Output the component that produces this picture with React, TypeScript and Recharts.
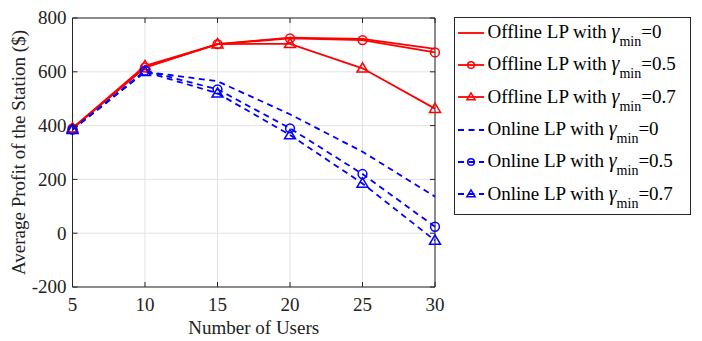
import React from "react";
import {
  LineChart,
  Line,
  XAxis,
  YAxis,
  CartesianGrid,
  ReferenceLine,
  Legend,
} from "recharts";

// ---- data ----
const users = [5, 10, 15, 20, 25, 30];
const offline0 = [390, 616, 703, 727, 722, 685];
const offline05 = [390, 616, 703, 724, 718, 672];
const offline07 = [390, 622, 703, 704, 613, 463];
const online0 = [385, 600, 565, 442, 303, 136];
const online05 = [385, 604, 535, 390, 220, 24];
const online07 = [385, 600, 520, 365, 185, -27];
const xTicks = [5, 10, 15, 20, 25, 30];
const yTicks = [-200, 0, 200, 400, 600, 800];

const SERIES = [
  { key: "off0", prefix: "Offline", gamma: "0", values: offline0, color: "#ff0000", dashed: false, marker: "none" },
  { key: "off05", prefix: "Offline", gamma: "0.5", values: offline05, color: "#ff0000", dashed: false, marker: "circle" },
  { key: "off07", prefix: "Offline", gamma: "0.7", values: offline07, color: "#ff0000", dashed: false, marker: "triangle" },
  { key: "on0", prefix: "Online", gamma: "0", values: online0, color: "#0000ff", dashed: true, marker: "none" },
  { key: "on05", prefix: "Online", gamma: "0.5", values: online05, color: "#0000ff", dashed: true, marker: "circle" },
  { key: "on07", prefix: "Online", gamma: "0.7", values: online07, color: "#0000ff", dashed: true, marker: "triangle" },
];

const data = users.map((u, i) => {
  const row: any = { users: u };
  SERIES.forEach((s) => (row[s.key] = s.values[i]));
  return row;
});

// ---- layout / style ----
const W = 702;
const H = 333;
const PLOT_LEFT = 64.5;
const PLOT_TOP = 10;
const PLOT_RIGHT = 427;
const PLOT_BOTTOM = 279;
const FONT = '"Liberation Serif", "Times New Roman", serif';
const AXIS = "#262626";
const DASH = "6 4.5";

const marker = (kind: string, color: string, cx: number, cy: number, s = 1, key?: any) => {
  if (kind === "circle")
    return <circle key={key} cx={cx} cy={cy} r={4.4 * s} fill="none" stroke={color} strokeWidth={1.5} />;
  if (kind === "triangle") {
    const hw = 5.5 * s;
    const pts = `${cx},${cy - 5.5 * s} ${cx - hw},${cy + 3.8 * s} ${cx + hw},${cy + 3.8 * s}`;
    return <polygon key={key} points={pts} fill="none" stroke={color} strokeWidth={1.5} />;
  }
  return <g key={key} />;
};

const makeDot = (kind: string, color: string) => (props: any) => {
  const { cx, cy, index } = props;
  if (cx == null || cy == null) return <g key={index} />;
  return marker(kind, color, cx, cy, 1, index);
};

const XTick = (props: any) => {
  const { x, payload } = props;
  return (
    <g>
      <line x1={x} x2={x} y1={PLOT_BOTTOM} y2={PLOT_BOTTOM - 5} stroke={AXIS} />
      <line x1={x} x2={x} y1={PLOT_TOP} y2={PLOT_TOP + 5} stroke={AXIS} />
      <text x={x} y={PLOT_BOTTOM + 24} textAnchor="middle" fontSize={19} style={{ fontFamily: FONT }} fill="#222">
        {payload.value}
      </text>
    </g>
  );
};

const YTick = (props: any) => {
  const { y, payload } = props;
  return (
    <g>
      <line x1={PLOT_LEFT} x2={PLOT_LEFT + 5} y1={y} y2={y} stroke={AXIS} />
      <line x1={PLOT_RIGHT} x2={PLOT_RIGHT - 5} y1={y} y2={y} stroke={AXIS} />
      <text x={PLOT_LEFT - 6} y={y + 6.3} textAnchor="end" fontSize={19} style={{ fontFamily: FONT }} fill="#222">
        {payload.value}
      </text>
    </g>
  );
};

const YLabel = () => (
  <text
    transform={`translate(16.5, ${(PLOT_TOP + PLOT_BOTTOM) / 2}) rotate(-90)`}
    textAnchor="middle"
    fontSize={19}
    style={{ fontFamily: FONT }}
    fill="#222"
  >
    Average Profit of the Station ($)
  </text>
);

const XLabel = () => (
  <text
    x={(PLOT_LEFT + PLOT_RIGHT) / 2}
    y={326}
    textAnchor="middle"
    fontSize={19}
    style={{ fontFamily: FONT }}
    fill="#222"
  >
    Number of Users
  </text>
);

const LegendBox = () => (
  <div
    style={{
      width: 237,
      height: 198,
      border: `1px solid ${AXIS}`,
      background: "#fff",
      boxSizing: "border-box",
      fontFamily: FONT,
      fontSize: 19,
      color: "#000",
    }}
  >
    {SERIES.map((s) => (
      <div key={s.key} style={{ height: 32.3, display: "flex", alignItems: "center", marginTop: s.key === "off0" ? -1.5 : 0 }}>
        <svg width={30} height={14} style={{ display: "block", flex: "none" }}>
          <line
            x1={3}
            x2={29}
            y1={7}
            y2={7}
            stroke={s.color}
            strokeWidth={1.8}
            strokeDasharray={s.dashed ? DASH : undefined}
          />
          {marker(s.marker, s.color, 16, 7, 0.75)}
        </svg>
        <span style={{ marginLeft: 2.5, whiteSpace: "nowrap", lineHeight: "20px" }}>
          {s.prefix} LP with <span style={{ fontSize: 20, fontStyle: "italic" }}>γ</span>
          <span style={{ fontSize: 14, position: "relative", top: 8 }}>min</span>={s.gamma}
        </span>
      </div>
    ))}
  </div>
);

export default function App() {
  return (
    <div style={{ width: W, height: H, position: "relative" }}>
      <LineChart
        width={W}
        height={H}
        data={data}
        margin={{ top: PLOT_TOP, right: W - PLOT_RIGHT, left: 0, bottom: 0 }}
        style={{ fontFamily: FONT }}
      >
        <CartesianGrid stroke="#e3e3e3" strokeWidth={1} />
        <XAxis
          dataKey="users"
          type="number"
          domain={[5, 30]}
          ticks={xTicks}
          height={H - PLOT_BOTTOM}
          tickSize={0}
          tickLine={false}
          axisLine={{ stroke: AXIS }}
          tick={<XTick />}
          label={<XLabel />}
          interval={0}
        />
        <YAxis
          type="number"
          domain={[-200, 800]}
          ticks={yTicks}
          width={PLOT_LEFT}
          tickSize={0}
          tickLine={false}
          axisLine={{ stroke: AXIS }}
          tick={<YTick />}
          label={<YLabel />}
          interval={0}
        />
        <ReferenceLine x={30} stroke={AXIS} />
        <ReferenceLine y={800} stroke={AXIS} />
        {SERIES.map((s) => (
          <Line
            key={s.key}
            dataKey={s.key}
            name={s.key}
            type="linear"
            stroke={s.color}
            strokeWidth={1.8}
            strokeDasharray={s.dashed ? DASH : undefined}
            dot={s.marker === "none" ? false : makeDot(s.marker, s.color)}
            activeDot={false}
            isAnimationActive={false}
          />
        ))}
        <Legend
          layout="vertical"
          align="center"
          verticalAlign="middle"
          content={<LegendBox />}
          wrapperStyle={{ position: "absolute", left: 446, top: 9, width: 237, height: 198 }}
        />
      </LineChart>
    </div>
  );
}
